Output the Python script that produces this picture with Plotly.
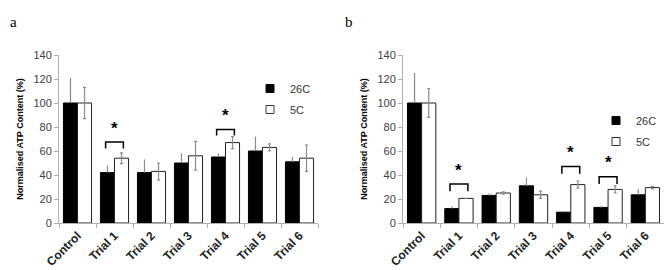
import plotly.graph_objects as go

categories = ["Control", "Trial 1", "Trial 2", "Trial 3", "Trial 4", "Trial 5", "Trial 6"]

# Panel a
a_26c = [100, 42, 42, 50, 55, 60, 51]
a_26c_err = [21, 6, 11, 8, 3, 12, 4]
a_5c = [100, 54, 43, 56, 67, 63, 54]
a_5c_err = [13, 4.5, 7, 12, 5, 3, 11]

# Panel b
b_26c = [100, 12, 23, 31, 9, 13, 23.5]
b_26c_err = [25, 2, 1.5, 7, 0, 1, 5]
b_5c = [100, 20.5, 25, 23.5, 32, 28, 29.5]
b_5c_err = [12, 0, 1, 3, 3, 3, 1]

# significance brackets: (category index, bracket top, leg bottom)
a_sig = [(1, 67.5, 62), (4, 78, 73)]
b_sig = [(1, 32.5, 26.5), (4, 47, 41), (5, 38.5, 32.5)]

series_names = ["26C", "5C"]

FONT = "Liberation Sans, Arial, sans-serif"
fig = go.Figure()

panels = [
    ("x", "y", "legend", a_26c, a_26c_err, a_5c, a_5c_err, a_sig),
    ("x2", "y2", "legend2", b_26c, b_26c_err, b_5c, b_5c_err, b_sig),
]

for xa, ya, leg, v26, e26, v5, e5, sig in panels:
    fig.add_trace(go.Bar(
        x=categories, y=v26, name=series_names[0], xaxis=xa, yaxis=ya, showlegend=False,
        marker=dict(color="black", line=dict(color="black", width=1)),
        error_y=dict(type="data", array=e26, arrayminus=[0] * len(e26), symmetric=False,
                     color="#8a8a8a", thickness=1.2, width=0),
    ))
    fig.add_trace(go.Bar(
        x=categories, y=v5, name=series_names[1], xaxis=xa, yaxis=ya, showlegend=False,
        marker=dict(color="white", line=dict(color="#222222", width=1)),
        error_y=dict(type="data", array=e5, color="#8a8a8a", thickness=1.2, width=1.5),
    ))
    # legend entries (small squares like the original)
    fig.add_trace(go.Scatter(
        x=[None], y=[None], mode="markers", name=series_names[0], xaxis=xa, yaxis=ya,
        legend=leg, legendgroup=leg + "a",
        marker=dict(symbol="square", size=8, color="black", line=dict(color="black", width=1)),
    ))
    fig.add_trace(go.Scatter(
        x=[None], y=[None], mode="markers", name=series_names[1], xaxis=xa, yaxis=ya,
        legend=leg, legendgroup=leg + "b",
        marker=dict(symbol="square", size=8, color="white", line=dict(color="#333333", width=1)),
    ))
    for idx, top, bot in sig:
        x0, x1 = idx - 0.24, idx + 0.24
        fig.add_shape(type="path",
                      path=f"M {x0},{bot} L {x0},{top} L {x1},{top} L {x1},{bot}",
                      xref=xa, yref=ya, line=dict(color="black", width=1.5))
        fig.add_annotation(x=idx, y=top + 2, xref=xa, yref=ya, text="<b>*</b>",
                           showarrow=False, yanchor="bottom",
                           font=dict(size=17, color="black", family=FONT))

axis_common = dict(showline=True, linecolor="#b0b0b0", linewidth=1, showgrid=False,
                   zeroline=False, automargin=False)
xaxis_common = dict(type="category", ticks="outside", tickson="boundaries", ticklen=4,
                    tickcolor="#b0b0b0", tickangle=-45,
                    tickfont=dict(size=12, color="#222222", family=FONT),
                    tickprefix="<b>", ticksuffix="</b>", **axis_common)
yaxis_common = dict(range=[0, 140], dtick=20, ticks="outside", ticklen=4, tickcolor="#b0b0b0",
                    tickfont=dict(size=11, color="#404040", family=FONT),
                    title=dict(text="<b>Normalised ATP Content (%)</b>",
                               font=dict(size=9, color="black", family=FONT), standoff=8),
                    **axis_common)

fig.update_layout(
    width=668, height=271, margin=dict(l=0, r=0, t=0, b=0),
    paper_bgcolor="white", plot_bgcolor="white",
    barmode="group", bargap=0.24, bargroupgap=0,
    font=dict(family=FONT, color="#333333"),
    xaxis=dict(domain=[59 / 668, 318 / 668], anchor="y", **xaxis_common),
    xaxis2=dict(domain=[403 / 668, 664 / 668], anchor="y2", **xaxis_common),
    yaxis=dict(domain=[48 / 271, 216 / 271], anchor="x", **yaxis_common),
    yaxis2=dict(domain=[48 / 271, 216 / 271], anchor="x2", **yaxis_common),
    legend=dict(x=250 / 668, y=1 - 74 / 271, xanchor="left", yanchor="top",
                font=dict(size=11, color="#333333"), bgcolor="rgba(0,0,0,0)",
                tracegroupgap=2, itemwidth=30),
    legend2=dict(x=596 / 668, y=1 - 106 / 271, xanchor="left", yanchor="top",
                 font=dict(size=11, color="#333333"), bgcolor="rgba(0,0,0,0)",
                 tracegroupgap=2, itemwidth=30),
    showlegend=True,
)

fig.add_annotation(x=8 / 668, y=1 - 12 / 271, xref="paper", yref="paper", text="a",
                   showarrow=False,
                   font=dict(family="Liberation Serif, Times New Roman, serif", size=15, color="black"))
fig.add_annotation(x=349 / 668, y=1 - 12 / 271, xref="paper", yref="paper", text="b",
                   showarrow=False,
                   font=dict(family="Liberation Serif, Times New Roman, serif", size=15, color="black"))

fig.write_html("out.html")
